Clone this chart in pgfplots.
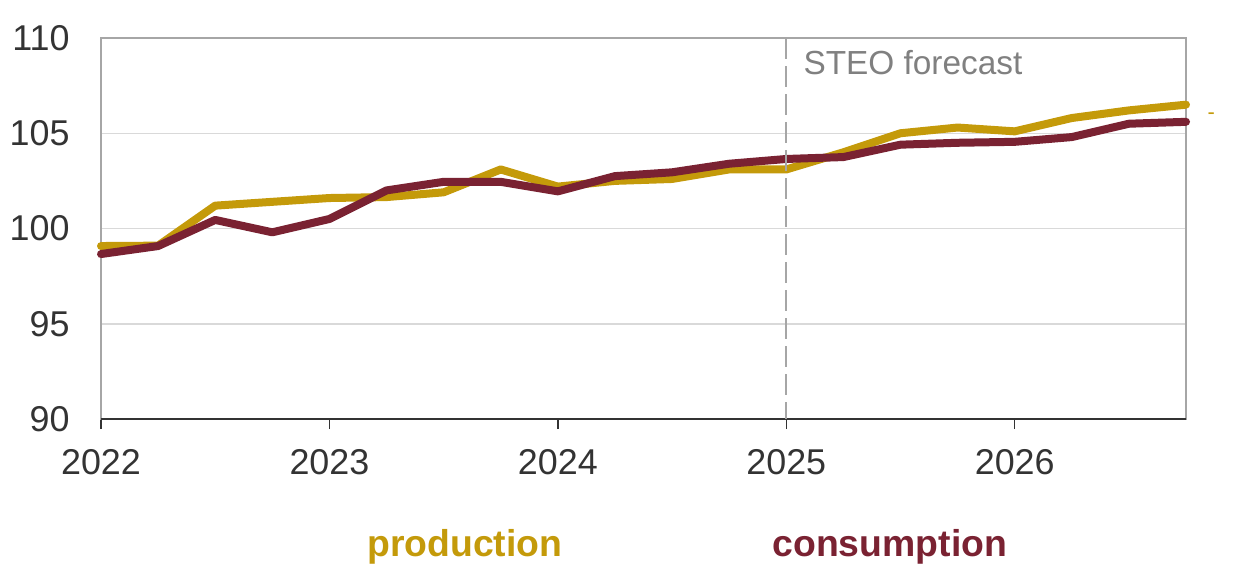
\documentclass[border=0pt]{standalone}
\usepackage{pgfplots}
\pgfplotsset{compat=1.18}
\usepackage{fontspec}
\setmainfont{Liberation Sans}
\definecolor{prodgold}{HTML}{C49A0A}
\definecolor{consmaroon}{HTML}{7A2232}
\definecolor{framegray}{HTML}{A6A6A6}
\definecolor{gridgray}{HTML}{D9D9D9}
\definecolor{txtdark}{HTML}{333333}
\definecolor{steogray}{HTML}{808080}
\begin{document}
\begin{tikzpicture}
\path[use as bounding box] (0bp,0bp) rectangle (1235bp,-577bp);
\begin{axis}[at={(101bp,-419bp)}, anchor=south west, scale only axis,
  width=1085bp, height=381bp,
  xmin=2022, xmax=2026.75, ymin=90, ymax=110,
  xtick={2022,2023,2024,2025,2026}, ytick={90,95,100,105,110},
  xtick pos=bottom, ytick pos=left,
  tick align=outside, major tick length=10bp,
  x tick style={draw=txtdark, line width=1.5bp},
  y tick style={draw=none},
  axis line style={draw=framegray, line width=1.5bp},
  ymajorgrids, grid style={draw=gridgray, line width=1.5bp},
  /pgf/number format/assume math mode=true,
  xticklabel style={/pgf/number format/1000 sep=, font=\fontsize{36}{40}\selectfont, text=txtdark, yshift=-17bp},
  yticklabel style={font=\fontsize{36}{40}\selectfont, text=txtdark, xshift=-18bp},
  clip=false]
\addplot[mark=none, color=prodgold, line width=8bp, line join=round, line cap=round] coordinates {
  (2022.00,99.08) (2022.25,99.10) (2022.50,101.20) (2022.75,101.40)
  (2023.00,101.60) (2023.25,101.65) (2023.50,101.90) (2023.75,103.10)
  (2024.00,102.20) (2024.25,102.50) (2024.50,102.60) (2024.75,103.10)
  (2025.00,103.10) (2025.25,104.00) (2025.50,105.00) (2025.75,105.30)
  (2026.00,105.10) (2026.25,105.80) (2026.50,106.20) (2026.75,106.50)};
\addplot[mark=none, color=consmaroon, line width=8bp, line join=round, line cap=round] coordinates {
  (2022.00,98.66) (2022.25,99.08) (2022.50,100.45) (2022.75,99.80)
  (2023.00,100.50) (2023.25,102.00) (2023.50,102.45) (2023.75,102.45)
  (2024.00,101.95) (2024.25,102.75) (2024.50,102.95) (2024.75,103.40)
  (2025.00,103.65) (2025.25,103.75) (2025.50,104.40) (2025.75,104.50)
  (2026.00,104.55) (2026.25,104.80) (2026.50,105.50) (2026.75,105.60)};
\draw[color=txtdark, line width=2bp] (rel axis cs:0,0) -- (rel axis cs:1,0);
\draw[color=framegray, line width=2bp, dash pattern=on 21bp off 7bp] (axis cs:2025,110) -- (axis cs:2025,90);
\node[anchor=west, text=steogray, font=\fontsize{33.5}{36}\selectfont] at (axis cs:2025.06,108.69) {STEO forecast};
\node[text=prodgold, font=\fontsize{22}{24}\selectfont] at (axis cs:2026.86,105.9) {-};
\node[text=prodgold, font=\bfseries\fontsize{37.5}{40}\selectfont] at (axis cs:2023.593,83.3) {production};
\node[text=consmaroon, font=\bfseries\fontsize{37.5}{40}\selectfont] at (axis cs:2025.453,83.3) {consumption};
\end{axis}
\end{tikzpicture}
\end{document}
